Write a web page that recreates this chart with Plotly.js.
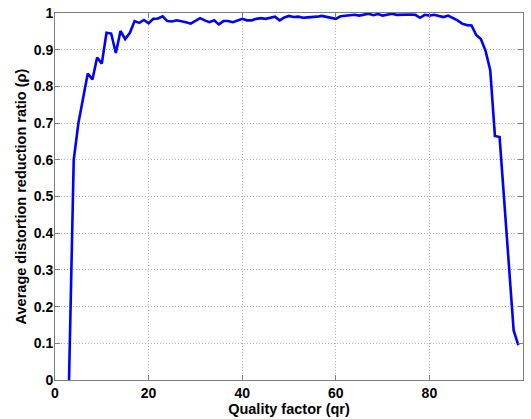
<!DOCTYPE html>
<html>
<head>
<meta charset="utf-8">
<script src="https://cdn.plot.ly/plotly-3.0.1.min.js"></script>
<style>html,body{margin:0;padding:0;background:#fff;}#chart{width:531px;height:419px;}</style>
</head>
<body>
<div id="chart"></div>
<script>
var qualityFactor = [3,4,5,6,7,8,9,10,11,12,13,14,15,16,17,18,19,20,21,22,23,24,25,26,27,28,29,30,31,32,33,34,35,36,37,38,39,40,41,42,43,44,45,46,47,48,49,50,51,52,53,54,55,56,57,58,59,60,61,62,63,64,65,66,67,68,69,70,71,72,73,74,75,76,77,78,79,80,81,82,83,84,85,86,87,88,89,90,91,92,93,94,95,96,97,98,99];
var reductionRatio = [0.0,0.60,0.700,0.765,0.835,0.819,0.879,0.862,0.946,0.944,0.891,0.951,0.929,0.946,0.978,0.973,0.981,0.972,0.984,0.985,0.991,0.978,0.977,0.980,0.978,0.975,0.971,0.978,0.986,0.980,0.975,0.980,0.969,0.978,0.978,0.975,0.980,0.984,0.980,0.980,0.984,0.986,0.984,0.986,0.990,0.980,0.988,0.992,0.989,0.990,0.987,0.988,0.988,0.990,0.992,0.990,0.987,0.984,0.991,0.993,0.993,0.995,0.993,0.996,0.998,0.994,0.997,0.993,0.995,0.998,0.995,0.996,0.996,0.996,0.995,0.987,0.995,0.993,0.995,0.993,0.989,0.993,0.987,0.980,0.971,0.967,0.966,0.940,0.929,0.897,0.844,0.665,0.662,0.490,0.315,0.135,0.095];
var xTicks = [0,20,40,60,80,100];
var yTicks = [0,0.1,0.2,0.3,0.4,0.5,0.6,0.7,0.8,0.9,1];
var yTickText = ['0','0.1','0.2','0.3','0.4','0.5','0.6','0.7','0.8','0.9','1'];

var trace = {
  x: qualityFactor,
  y: reductionRatio,
  type: 'scatter',
  mode: 'lines',
  line: {color: '#0000ff', width: 2.6},
  hoverinfo: 'skip'
};

var fontFam = 'Liberation Sans, Arial, sans-serif';
var axisCommon = {
  showline: true,
  linecolor: '#7f7f7f',
  linewidth: 1,
  mirror: 'ticks',
  ticks: 'inside',
  ticklen: 5,
  tickcolor: '#7f7f7f',
  showgrid: true,
  gridcolor: '#b4b4b4',
  griddash: '1px,2px',
  gridwidth: 1,
  zeroline: false,
  tickfont: {family: fontFam, size: 14, color: '#000', weight: 'bold'},
  fixedrange: true
};

var layout = {
  width: 531,
  height: 419,
  margin: {l: 55, r: 8, t: 13, b: 39},
  paper_bgcolor: '#fff',
  plot_bgcolor: '#fff',
  showlegend: false,
  xaxis: Object.assign({}, axisCommon, {
    range: [0, 100],
    tickvals: xTicks,
    ticktext: xTicks.map(String),
    title: {text: 'Quality factor (qr)', font: {family: fontFam, size: 14.5, color: '#000', weight: 'bold'}, standoff: 2}
  }),
  yaxis: Object.assign({}, axisCommon, {
    range: [0, 1],
    tickvals: yTicks,
    ticktext: yTickText,
    ticklabelstandoff: -2,
    title: {text: 'Average distortion reduction ratio (ρ)', font: {family: fontFam, size: 14.5, color: '#000', weight: 'bold'}, standoff: 3}
  })
};

Plotly.newPlot('chart', [trace], layout, {displayModeBar: false, staticPlot: true});
</script>
</body>
</html>
